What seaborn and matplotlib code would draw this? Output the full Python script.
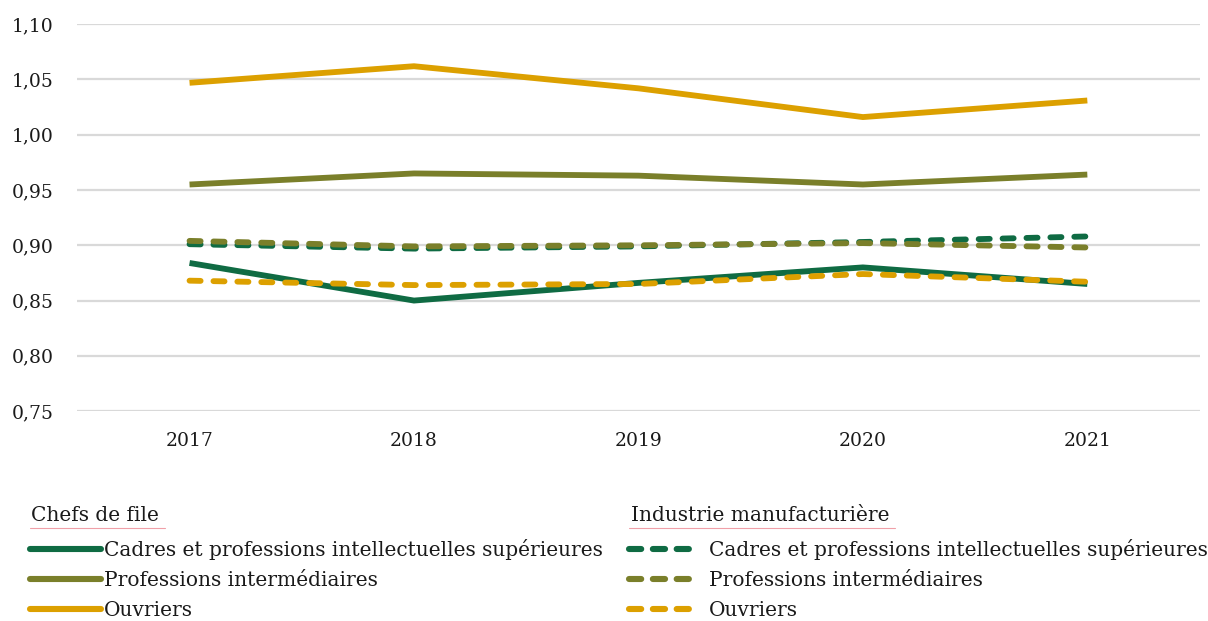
import matplotlib
matplotlib.use("Agg")
import matplotlib.pyplot as plt
from matplotlib.lines import Line2D
import seaborn as sns
import pandas as pd

years = ["2017", "2018", "2019", "2020", "2021"]
categories = ["Cadres et professions intellectuelles supérieures",
              "Professions intermédiaires",
              "Ouvriers"]
groups = ["Chefs de file", "Industrie manufacturière"]

chefs_cadres = [0.884, 0.850, 0.866, 0.880, 0.865]
chefs_prof_int = [0.955, 0.965, 0.963, 0.955, 0.964]
chefs_ouvriers = [1.047, 1.062, 1.042, 1.016, 1.031]

indus_cadres = [0.901, 0.897, 0.899, 0.903, 0.908]
indus_prof_int = [0.904, 0.899, 0.900, 0.902, 0.898]
indus_ouvriers = [0.868, 0.864, 0.865, 0.874, 0.867]

y_ticks = [0.75, 0.80, 0.85, 0.90, 0.95, 1.00, 1.05, 1.10]

colors = {categories[0]: "#0f6b43",
          categories[1]: "#7a7f2a",
          categories[2]: "#dca000"}

series = {
    (groups[0], categories[0]): chefs_cadres,
    (groups[0], categories[1]): chefs_prof_int,
    (groups[0], categories[2]): chefs_ouvriers,
    (groups[1], categories[0]): indus_cadres,
    (groups[1], categories[1]): indus_prof_int,
    (groups[1], categories[2]): indus_ouvriers,
}
rows = []
for (grp, cat), vals in series.items():
    for i, (yr, v) in enumerate(zip(years, vals)):
        rows.append({"pos": i, "annee": yr, "valeur": v,
                     "groupe": grp, "categorie": cat})
df = pd.DataFrame(rows)

sns.set_theme(style="white")
plt.rcParams["font.family"] = ["DejaVu Serif"]

fig = plt.figure(figsize=(12.08, 6.21), dpi=100)
ax = fig.add_axes([0.064, 0.338, 0.929, 0.623])

LW = 4.2
DASH = (1.9, 2.2)

# solid series first, dashed ones on top
order = [(groups[0], c) for c in categories] + [(groups[1], c) for c in categories]
for grp, cat in order:
    sub = df[(df.groupe == grp) & (df.categorie == cat)]
    sns.lineplot(data=sub, x="pos", y="valeur", ax=ax, color=colors[cat],
                 linewidth=LW, legend=False, estimator=None)
    line = ax.lines[-1]
    if grp == groups[1]:
        line.set_dashes(DASH)
        line.set_dash_capstyle("round")
    else:
        line.set_solid_capstyle("butt")
    line.set_solid_joinstyle("miter")

ax.set_xlim(-0.5, len(years) - 0.5)
ax.set_ylim(0.75, 1.10)
ax.set_xticks(range(len(years)))
ax.set_xticklabels(years)
ax.set_yticks(y_ticks)
ax.set_yticklabels([f"{t:.2f}".replace(".", ",") for t in y_ticks])
ax.set_xlabel("")
ax.set_ylabel("")
ax.yaxis.grid(True, color="#d9d9d9", linewidth=1.6)
ax.xaxis.grid(False)
ax.set_axisbelow(True)
for s in ax.spines.values():
    s.set_visible(False)
ax.tick_params(axis="both", length=0, labelsize=13.5, colors="#1a1a1a")
ax.tick_params(axis="x", pad=15)
ax.tick_params(axis="y", pad=17)

# legends: one column per group
def make_handles(dashed):
    hs = []
    for cat in categories:
        h = Line2D([], [], color=colors[cat], linewidth=4.4)
        if dashed:
            h.set_dashes((2.0, 1.9))
            h.set_dash_capstyle("round")
        else:
            h.set_solid_capstyle("round")
        hs.append(h)
    return hs

FS = 14.5
for x0, grp, dashed, uline, pad in [(0.026, groups[0], False, 0.137, 0.18),
                                     (0.522, groups[1], True, 0.741, 0.45)]:
    fig.text(x0, 0.154, grp, fontsize=FS, color="#1a1a1a", va="bottom")
    fig.add_artist(Line2D([x0 - 0.001, uline], [0.150, 0.150],
                          color="#f0a0a8", linewidth=0.8,
                          transform=fig.transFigure))
    leg = fig.legend(make_handles(dashed), categories,
                     loc="upper left", bbox_to_anchor=(x0 - 0.001, 0.132),
                     frameon=False, fontsize=FS, handlelength=3.5,
                     handletextpad=pad, labelspacing=0.54,
                     borderaxespad=0, borderpad=0)
    for t in leg.get_texts():
        t.set_color("#1a1a1a")

fig.savefig("out.png", dpi=100, facecolor="white")
